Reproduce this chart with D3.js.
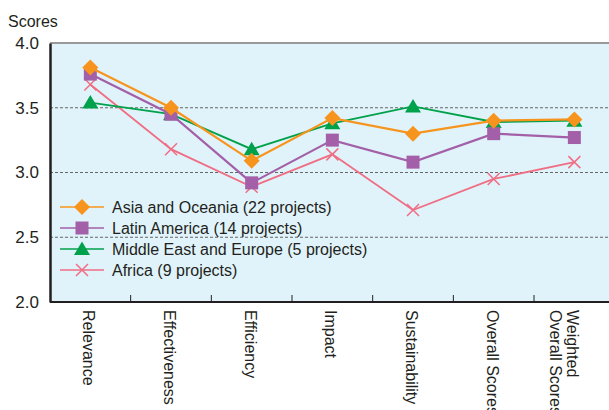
<!DOCTYPE html>
<html>
<head>
<meta charset="utf-8">
<script src="https://cdn.jsdelivr.net/npm/d3@7"></script>
<style>
  body { margin: 0; background: #fff; }
  text { font-family: "Liberation Sans", Arial, sans-serif; fill: #231f20; }
</style>
</head>
<body>
<svg id="chart" width="609" height="410"></svg>
<script>
// categories along the x axis
var categories = ["Relevance", "Effectiveness", "Efficiency", "Impact",
    "Sustainability", "Overall Scores", "Weighted\nOverall Scores"];

// scores per region
var asiaOceania = [3.81, 3.50, 3.09, 3.42, 3.30, 3.40, 3.41];
var latinAmerica = [3.76, 3.45, 2.92, 3.25, 3.08, 3.30, 3.27];
var middleEast = [3.54, 3.45, 3.18, 3.38, 3.51, 3.39, 3.40];
var africa = [3.68, 3.18, 2.89, 3.14, 2.71, 2.95, 3.08];

var seriesNames = ["Asia and Oceania (22 projects)", "Latin America (14 projects)",
    "Middle East and Europe (5 projects)", "Africa (9 projects)"];

var yTicks = [2.0, 2.5, 3.0, 3.5, 4.0];

var series = [
    {name: seriesNames[0], values: asiaOceania, color: "#f7941d", marker: "diamond", width: 2.2},
    {name: seriesNames[1], values: latinAmerica, color: "#a35fa8", marker: "square", width: 2.2},
    {name: seriesNames[2], values: middleEast, color: "#00a14b", marker: "triangle", width: 1.8},
    {name: seriesNames[3], values: africa, color: "#f06e84", marker: "cross", width: 1.8}
];

var svg = d3.select("#chart");
var plotLeft = 50, plotTop = 43, plotBottom = 302, plotRight = 609;

// one band per category, the points sit in the band centres
var x = d3.scaleBand()
    .domain(categories)
    .range([plotLeft, plotLeft + 80.67 * 7]);
function cx(d) { return x(d) + x.bandwidth() / 2; }

var y = d3.scaleLinear()
    .domain([2, 4])
    .range([plotBottom, plotTop]);

// plot background
svg.append("rect")
    .attr("x", plotLeft)
    .attr("y", plotTop)
    .attr("width", plotRight - plotLeft)
    .attr("height", plotBottom - plotTop)
    .attr("fill", "#e0f3fa");

// dashed grid lines
svg.selectAll(".grid")
    .data([2.5, 3.0, 3.5])
    .enter().append("line")
    .attr("class", "grid")
    .attr("x1", plotLeft)
    .attr("x2", plotRight)
    .attr("y1", function(d) { return y(d); })
    .attr("y2", function(d) { return y(d); })
    .attr("stroke", "#666")
    .attr("stroke-width", 1)
    .attr("stroke-dasharray", "3,2");

// top border
svg.append("line")
    .attr("x1", plotLeft).attr("x2", plotRight)
    .attr("y1", plotTop).attr("y2", plotTop)
    .attr("stroke", "#999")
    .attr("stroke-width", 2);

// y axis
var yAxis = svg.append("g")
    .attr("transform", "translate(" + plotLeft + ",0)")
    .call(d3.axisLeft(y)
        .tickValues(yTicks)
        .tickSize(0)
        .tickPadding(11)
        .tickFormat(d3.format(".1f")));
yAxis.select(".domain").attr("stroke", "#231f20").attr("stroke-width", 2.5);
yAxis.selectAll("text")
    .style("font-size", "17px")
    .style("font-family", "Liberation Sans, Arial, sans-serif")
    .attr("fill", "#231f20");

svg.append("text")
    .attr("x", 8)
    .attr("y", 27)
    .style("font-size", "16px")
    .text("Scores");

// x axis
var xAxis = svg.append("g")
    .attr("transform", "translate(0," + plotBottom + ")");
xAxis.append("line")
    .attr("x1", plotLeft).attr("x2", plotRight)
    .attr("stroke", "#231f20")
    .attr("stroke-width", 2);
xAxis.selectAll(".tick")
    .data(categories.slice(1))
    .enter().append("line")
    .attr("class", "tick")
    .attr("x1", function(d) { return x(d); })
    .attr("x2", function(d) { return x(d); })
    .attr("y1", 0)
    .attr("y2", -7)
    .attr("stroke", "#231f20")
    .attr("stroke-width", 1);

// rotated category labels
var labels = xAxis.selectAll(".xlabel")
    .data(categories)
    .enter().append("text")
    .attr("class", "xlabel")
    .attr("transform", function(d) {
        return "translate(" + (cx(d) - 7) + ",8) rotate(90)";
    })
    .style("font-size", "16px");
labels.selectAll("tspan")
    .data(function(d) { return d.split("\n"); })
    .enter().append("tspan")
    .attr("x", 0)
    .attr("dy", function(d, i) { return i === 0 ? 0 : 17; })
    .text(function(d) { return d; });

// lines
var line = d3.line()
    .x(function(d, i) { return cx(categories[i]); })
    .y(function(d) { return y(d); });

// draw in reverse so Asia sits on top
var drawOrder = series.slice().reverse();

var groups = svg.selectAll(".series")
    .data(drawOrder)
    .enter().append("g")
    .attr("class", "series");

groups.append("path")
    .attr("fill", "none")
    .attr("stroke", function(d) { return d.color; })
    .attr("stroke-width", function(d) { return d.width; })
    .attr("d", function(d) { return line(d.values); });

var markerPaths = {
    diamond: "M0,-8L8,0L0,8L-8,0Z",
    square: "M-6.5,-6.5H6.5V6.5H-6.5Z",
    triangle: "M0,-7.5L8,6L-8,6Z",
    cross: "M-6,-6L6,6M-6,6L6,-6"
};

function drawMarker(sel, s, px, py) {
    var p = sel.append("path")
        .attr("d", markerPaths[s.marker])
        .attr("transform", "translate(" + px + "," + py + ")");
    if (s.marker === "cross") {
        p.attr("stroke", s.color).attr("stroke-width", 1.5).attr("fill", "none");
    } else {
        p.attr("fill", s.color);
    }
}

groups.each(function(s) {
    var g = d3.select(this);
    s.values.forEach(function(v, i) {
        drawMarker(g, s, cx(categories[i]), y(v));
    });
});

// legend
var legend = svg.selectAll(".legend")
    .data(series)
    .enter().append("g")
    .attr("class", "legend")
    .attr("transform", function(d, i) { return "translate(60," + (207 + i * 21) + ")"; });

legend.append("line")
    .attr("x1", 0).attr("x2", 44)
    .attr("stroke", function(d) { return d.color; })
    .attr("stroke-width", 1.3);

legend.each(function(s) {
    drawMarker(d3.select(this), s, 22, 0);
});

legend.append("text")
    .attr("x", 52)
    .attr("y", 0)
    .attr("dy", "0.36em")
    .style("font-size", "16px")
    .text(function(d) { return d.name; });
</script>
</body>
</html>
